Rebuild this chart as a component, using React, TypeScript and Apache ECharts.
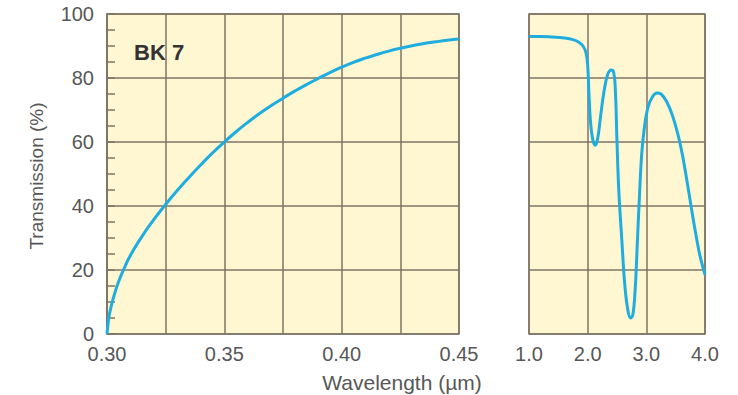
import React, { useEffect, useRef } from "react";
import * as echarts from "echarts";

const uvWavelength = [0.300, 0.3005, 0.301, 0.302, 0.303, 0.305, 0.307, 0.310, 0.315, 0.320, 0.325, 0.330, 0.335, 0.340, 0.345, 0.350, 0.355, 0.360, 0.365, 0.370, 0.375, 0.380, 0.385, 0.390, 0.395, 0.400, 0.405, 0.410, 0.415, 0.420, 0.425, 0.430, 0.435, 0.440, 0.445, 0.450];
const uvTransmission = [0, 3.5, 6, 9.3, 12, 16.5, 20, 24.6, 30.6, 35.8, 40.5, 44.9, 49.0, 52.9, 56.6, 60.0, 63.2, 66.15, 68.9, 71.4, 73.7, 75.9, 77.95, 79.85, 81.7, 83.4, 84.9, 86.2, 87.35, 88.4, 89.3, 90.1, 90.75, 91.3, 91.8, 92.2];

const irWavelength = [1.00, 1.20, 1.40, 1.60, 1.75, 1.85, 1.92, 1.97, 2.00, 2.02, 2.05, 2.09, 2.13, 2.17, 2.22, 2.28, 2.34, 2.40, 2.44, 2.47, 2.50, 2.53, 2.58, 2.63, 2.68, 2.73, 2.77, 2.81, 2.85, 2.88, 2.92, 2.97, 3.03, 3.10, 3.18, 3.25, 3.35, 3.45, 3.55, 3.62, 3.70, 3.78, 3.86, 3.92, 4.00];
const irTransmission = [93, 93, 92.8, 92.5, 92, 91.2, 90, 88, 84, 76, 66, 60.5, 59, 61, 68, 76, 81, 82.5, 82, 77, 60, 45, 30, 16, 8, 5, 6, 14, 30, 42, 56, 65, 71, 74, 75.3, 75, 72.5, 68, 61.5, 55.5, 47, 38, 29.5, 24, 18.5];

const yTicks = [0, 20, 40, 60, 80, 100];
const glassLabel = "BK 7";
const xTitle = "Wavelength (\u00b5m)";
const yTitle = "Transmission (%)";

const GRID = "#7f7464";
const TEXT = "#575757";
const CURVE = "#1fade0";
const BG = "#fef7d2";
const FONT = "'Liberation Sans', Arial, sans-serif";

export default function App() {
  const ref = useRef<HTMLDivElement>(null);
  useEffect(() => {
    if (!ref.current) return;
    const chart = echarts.init(ref.current, null, { renderer: "svg" });
    const uvData = uvWavelength.map((w, i) => [w, uvTransmission[i]]);
    const irData = irWavelength.map((w, i) => [w, irTransmission[i]]);
    const lbl = { color: TEXT, fontSize: 20, fontFamily: FONT };
    chart.setOption({
      animation: false,
      grid: [
        { left: 107, top: 14, width: 352, height: 320, show: true, backgroundColor: BG, borderColor: GRID, borderWidth: 1.5 },
        { left: 529, top: 14, width: 176, height: 320, show: true, backgroundColor: BG, borderColor: GRID, borderWidth: 1.5 },
      ],
      xAxis: [
        {
          type: "value", gridIndex: 0, min: 0.3, max: 0.45, interval: 0.05,
          axisLine: { show: false }, axisTick: { show: false },
          splitLine: { show: true, lineStyle: { color: GRID, width: 1.5 } },
          minorSplitLine: { show: true, lineStyle: { color: GRID, width: 1.5 } },
          minorTick: { show: false, splitNumber: 2 },
          axisLabel: { ...lbl, margin: 10, formatter: (v: number) => v.toFixed(2) },
        },
        {
          type: "value", gridIndex: 1, min: 1, max: 4, interval: 1,
          axisLine: { show: false }, axisTick: { show: false },
          splitLine: { show: true, lineStyle: { color: GRID, width: 1.5 } },
          axisLabel: { ...lbl, margin: 10, formatter: (v: number) => v.toFixed(1) },
        },
      ],
      yAxis: [
        {
          type: "value", gridIndex: 0, min: yTicks[0], max: yTicks[yTicks.length - 1], interval: 20,
          axisLine: { show: true, lineStyle: { color: GRID, width: 1.5 } },
          axisTick: { show: true, inside: true, length: 8, lineStyle: { color: GRID, width: 1.5 } },
          minorTick: { show: true, splitNumber: 4, length: 8, lineStyle: { color: GRID, width: 1.5 } },
          splitLine: { show: true, lineStyle: { color: GRID, width: 1.5 } },
          axisLabel: { ...lbl, margin: 13 },
        },
        {
          type: "value", gridIndex: 1, min: 0, max: 100, interval: 20,
          axisLine: { show: false }, axisTick: { show: false },
          splitLine: { show: true, lineStyle: { color: GRID, width: 1.5 } },
          axisLabel: { show: false },
        },
      ],
      series: [
        { type: "line", xAxisIndex: 0, yAxisIndex: 0, data: uvData, smooth: 0.5, showSymbol: false, lineStyle: { color: CURVE, width: 3 } },
        { type: "line", xAxisIndex: 1, yAxisIndex: 1, data: irData, smooth: 0.4, showSymbol: false, lineStyle: { color: CURVE, width: 3 } },
      ],
      graphic: [
        { type: "text", x: 134, y: 52, style: { text: glassLabel, font: `bold 22px ${FONT}`, fill: "#333", verticalAlign: "middle" } },
        { type: "text", x: 402, y: 382, style: { text: xTitle, font: `21px ${FONT}`, fill: TEXT, align: "center", verticalAlign: "middle" } },
        { type: "text", x: 36, y: 176, rotation: Math.PI / 2, style: { text: yTitle, font: `19px ${FONT}`, fill: TEXT, align: "center", verticalAlign: "middle" } },
      ],
    });
    return () => chart.dispose();
  }, []);
  return <div ref={ref} style={{ position: "fixed", left: 0, top: 0, width: 738, height: 395, background: "#fff" }} />;
}
